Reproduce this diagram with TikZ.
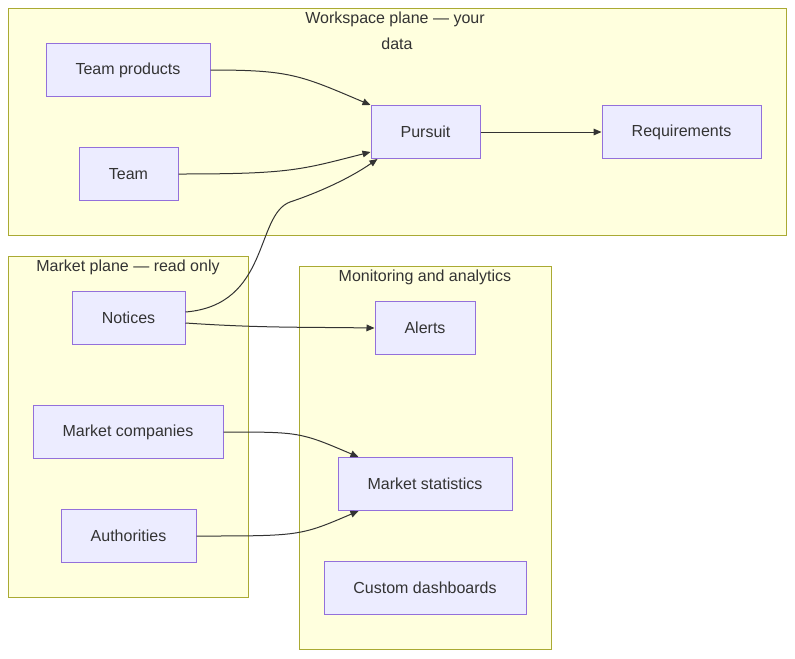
\documentclass[tikz,border=0pt]{standalone}
\usepackage{fontspec}
\setmainfont{Liberation Sans}
\usetikzlibrary{arrows.meta, positioning, calc}
\definecolor{nodefill}{HTML}{ECECFF}
\definecolor{nodeline}{HTML}{9370DB}
\definecolor{planefill}{HTML}{FFFFDE}
\definecolor{planeline}{HTML}{AAAA33}
\definecolor{ink}{HTML}{333333}

\begin{document}
\begin{tikzpicture}[
        x=0.75pt, y=-0.75pt,
        block/.style={rectangle, draw=nodeline, fill=nodefill, line width=0.75pt,
                      minimum height=53*0.75pt, inner sep=0pt,
                      align=center, font=\fontsize{12}{14}\selectfont, text=ink},
        plane/.style={draw=planeline, fill=planefill, line width=0.75pt},
        title/.style={font=\fontsize{12}{14}\selectfont, text=ink},
        arrow/.style={-{Triangle[length=6pt,width=5pt]}, ink, line width=0.75pt},
    ]
        \useasboundingbox (0,0) rectangle (795,658);
        % Planes
        \draw[plane] (8,8) rectangle (786,235);
        \draw[plane] (8,256) rectangle (248,597);
        \draw[plane] (299,266) rectangle (551,649);
        \node[title] (wstitle) at (395,19) {Workspace plane — your};
        \node[title] (wstitle2) at (397,44) {data};
        \node[title] (mktitle) at (128,267) {Market plane — read only};
        \node[title] (montitle) at (425,277) {Monitoring and analytics};

        % Workspace
        \node[block, minimum width=164*0.75pt] (products) at (128,70) {Team products};
        \node[block, minimum width=99*0.75pt] (team) at (128.5,174) {Team};
        \node[block, minimum width=109*0.75pt] (pursuit) at (425.5,132) {Pursuit};
        \node[block, minimum width=159*0.75pt] (reqs) at (681.5,132) {Requirements};
        % Market
        \node[block, minimum width=113*0.75pt] (notices) at (128.5,318) {Notices};
        \node[block, minimum width=190*0.75pt] (companies) at (128,432) {Market companies};
        \node[block, minimum width=135*0.75pt] (authorities) at (128.5,536) {Authorities};
        % Monitoring
        \node[block, minimum width=100*0.75pt] (alerts) at (425,328) {Alerts};
        \node[block, minimum width=174*0.75pt] (stats) at (425,484) {Market statistics};
        \node[block, minimum width=202*0.75pt] (dash) at (425,588) {Custom dashboards};

        \draw[arrow] (products.east) .. controls (290,70) and (300,75) .. (pursuit.north west);
        \draw[arrow] (team.east) .. controls (290,174) and (300,170) .. ($(pursuit.south west)+(0,-7)$);
        \draw[arrow] ($(notices.east)+(0,-6)$) .. controls (270,305) and (255,215) .. (290,202) .. controls (320,192) and (350,178) .. ($(pursuit.south west)+(7,0)$);
        \draw[arrow] ($(notices.east)+(0,5)$) .. controls (260,328) and (300,327) .. (alerts.west);
        \draw[arrow] (companies.east) .. controls (300,432) and (300,432) .. ($(stats.north west)+(21,0)$);
        \draw[arrow] (authorities.east) .. controls (300,536) and (300,536) .. ($(stats.south west)+(21,0)$);
        \draw[arrow] (pursuit) -- (reqs);
    \end{tikzpicture}
\end{document}
